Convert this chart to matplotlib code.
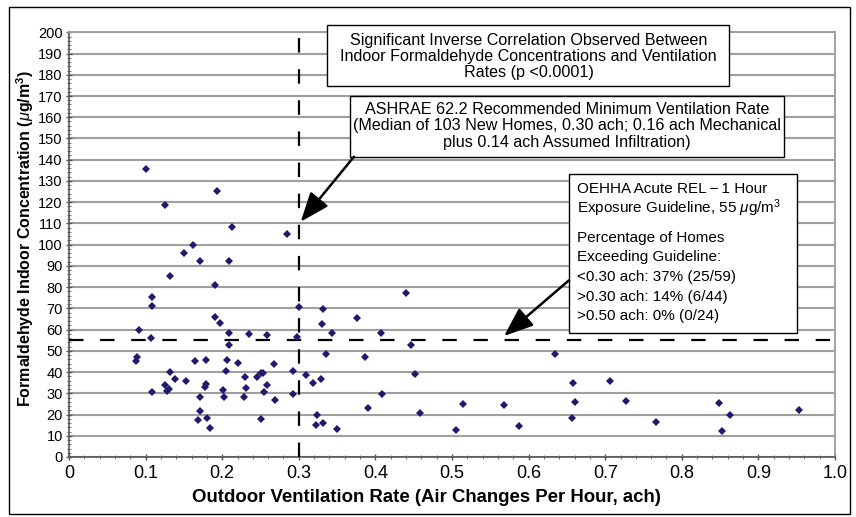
import matplotlib
matplotlib.use('Agg')
import matplotlib.pyplot as plt
from matplotlib.patches import Rectangle
from matplotlib.ticker import MultipleLocator

# ventilation rate (ach) and formaldehyde concentration (ug/m3)
ach = [0.100, 0.193, 0.125, 0.213, 0.285, 0.162, 0.150, 0.171, 0.209, 0.132,
       0.190, 0.109, 0.108, 0.300, 0.190, 0.197, 0.092, 0.209, 0.235, 0.258,
       0.107, 0.297, 0.209, 0.089, 0.088, 0.165, 0.179, 0.206, 0.221, 0.267,
       0.132, 0.205, 0.293, 0.309, 0.138, 0.153, 0.230, 0.245, 0.250, 0.253,
       0.125, 0.179, 0.178, 0.258, 0.231, 0.128, 0.131, 0.108, 0.201, 0.254,
       0.292, 0.171, 0.202, 0.229, 0.269, 0.171, 0.168, 0.180, 0.250, 0.184,
       0.332, 0.440, 0.376, 0.330, 0.343, 0.407, 0.446, 0.335, 0.387, 0.635,
       0.329, 0.318, 0.452, 0.408, 0.514, 0.568, 0.658, 0.660, 0.657, 0.390,
       0.458, 0.324, 0.323, 0.332, 0.350, 0.505, 0.588,
       0.706, 0.727, 0.766, 0.849, 0.863, 0.853, 0.953]
hcho = [135.4, 125.5, 118.6, 108.3, 105.0, 100.0, 96.2, 92.3, 92.5, 85.4,
        81.2, 75.4, 71.0, 70.6, 65.7, 63.2, 59.6, 58.5, 58.0, 57.6,
        56.2, 56.5, 52.7, 47.1, 45.4, 45.4, 45.5, 45.7, 44.4, 43.8,
        40.0, 40.5, 40.5, 38.5, 36.6, 35.8, 37.9, 37.7, 39.4, 39.6,
        33.9, 34.3, 33.0, 33.9, 32.4, 31.1, 31.8, 30.5, 31.5, 30.8,
        29.9, 28.3, 28.3, 28.2, 26.9, 21.6, 17.2, 18.3, 17.8, 13.5,
        69.6, 77.1, 65.4, 62.4, 58.5, 58.5, 52.7, 48.7, 47.3, 48.5,
        36.6, 34.9, 39.0, 29.9, 25.0, 24.4, 34.9, 25.7, 18.5, 23.2,
        20.7, 19.9, 15.2, 16.0, 13.3, 12.7, 14.4,
        35.8, 26.6, 16.6, 25.2, 20.0, 12.3, 22.2]

ashrae_rate = 0.30
rel_limit = 55

guideline_lines = ['OEHHA Acute REL\u2009\u2212\u20091 Hour',
                   r'Exposure Guideline, 55 $\mu$g/m$^3$']
stats_lines = ['Percentage of Homes', 'Exceeding Guideline:',
               '<0.30 ach: 37% (25/59)', '>0.30 ach: 14% (6/44)',
               '>0.50 ach: 0% (0/24)']

plt.rcParams['font.family'] = ['Liberation Sans', 'DejaVu Sans']
plt.rcParams['mathtext.fontset'] = 'custom'
plt.rcParams['mathtext.rm'] = 'Liberation Sans'
plt.rcParams['mathtext.it'] = 'Liberation Sans:italic'
plt.rcParams['mathtext.bf'] = 'Liberation Sans:bold'

fig = plt.figure(figsize=(8.56, 5.17), dpi=100)
ax = fig.add_axes([69 / 856, 1 - 457 / 517, 766 / 856, (457 - 32.3) / 517])

# outer frame around the whole figure
fig.patches.append(Rectangle((9 / 856, 1 - 514 / 517), 841 / 856, 507 / 517,
                             transform=fig.transFigure, fill=False,
                             ec='black', lw=1.0))

ax.set_xlim(0, 1.0)
ax.set_ylim(0, 200)
ax.xaxis.set_minor_locator(MultipleLocator(0.02))
ax.yaxis.set_major_locator(MultipleLocator(10))
ax.yaxis.set_minor_locator(MultipleLocator(2))
ax.set_xticks([i / 10 for i in range(11)])
ax.set_xticklabels(['0'] + ['%.1f' % (i / 10) for i in range(1, 11)])

ax.grid(axis='y', color='#a39e9e', lw=1.5, zorder=0)
ax.set_axisbelow(True)
for s in ['top', 'right']:
    ax.spines[s].set_color('#a0a0a0')
    ax.spines[s].set_linewidth(1.4)
for s in ['left', 'bottom']:
    ax.spines[s].set_color('#555555')
    ax.spines[s].set_linewidth(1.2)

ax.tick_params(axis='both', which='major', direction='inout', length=5,
               width=1, color='#555555')
ax.tick_params(axis='both', which='minor', direction='inout', length=3,
               width=0.8, color='#777777')
ax.tick_params(axis='x', labelsize=13, pad=3)
ax.tick_params(axis='y', labelsize=10.5, pad=2)

# reference lines
ax.axvline(ashrae_rate, color='black', lw=1.6, dashes=(6.5, 7.5), zorder=3)
ax.axhline(rel_limit, color='black', lw=1.6, dashes=(6.5, 7.5), zorder=3)

ax.plot(ach, hcho, 'D', color='#1f1a6e', ms=4.2, mew=0, zorder=4)

ax.set_xlabel('Outdoor Ventilation Rate (Air Changes Per Hour, ach)',
              fontsize=13.4, fontweight='bold')
ax.xaxis.set_label_coords(0.467, -0.0965)
ax.xaxis.label.set_va('center')
ax.set_ylabel(r'Formaldehyde Indoor Concentration ($\mu$g/m$^\mathbf{3}$)',
              fontsize=11.5, fontweight='bold')
ax.yaxis.set_label_coords(-0.0574, 0.514)
ax.yaxis.label.set_va('center')

# annotation boxes
def box(x0, x1, y0, y1):
    ax.add_patch(Rectangle((x0, y0), x1 - x0, y1 - y0, fc='white', ec='black',
                           lw=1.0, zorder=5, clip_on=False))

box(0.337, 0.862, 174.6, 203.4)
ax.text(0.600, 188.6, 'Significant Inverse Correlation Observed Between\n'
        'Indoor Formaldehyde Concentrations and Ventilation\n'
        'Rates (p <0.0001)', ha='center', va='center', fontsize=11.6,
        linespacing=1.12, zorder=6)

box(0.367, 0.933, 141.4, 170.0)
ax.text(0.650, 155.9, 'ASHRAE 62.2 Recommended Minimum Ventilation Rate\n'
        '(Median of 103 New Homes, 0.30 ach; 0.16 ach Mechanical\n'
        'plus 0.14 ach Assumed Infiltration)', ha='center', va='center',
        fontsize=11.6, linespacing=1.12, zorder=6)

box(0.653, 0.950, 58.5, 133.2)
for i, line in enumerate(guideline_lines):
    ax.text(0.663, 126.0 - 8.8 * i, line, ha='left', va='center',
            fontsize=11, zorder=6)
for i, line in enumerate(stats_lines):
    ax.text(0.663, 103.2 - 9.25 * i, line, ha='left', va='center',
            fontsize=11, zorder=6)

# arrows
arrow = dict(arrowstyle='-|>,head_length=0.9,head_width=0.35', lw=1.8,
             color='black', mutation_scale=20, shrinkA=0, shrinkB=0)
ax.annotate('', xy=(0.3025, 110.8), xytext=(0.372, 141.4), arrowprops=arrow,
            zorder=6)
ax.annotate('', xy=(0.568, 57.0), xytext=(0.653, 83.3), arrowprops=arrow,
            zorder=6)

fig.savefig('out.png', dpi=100)
